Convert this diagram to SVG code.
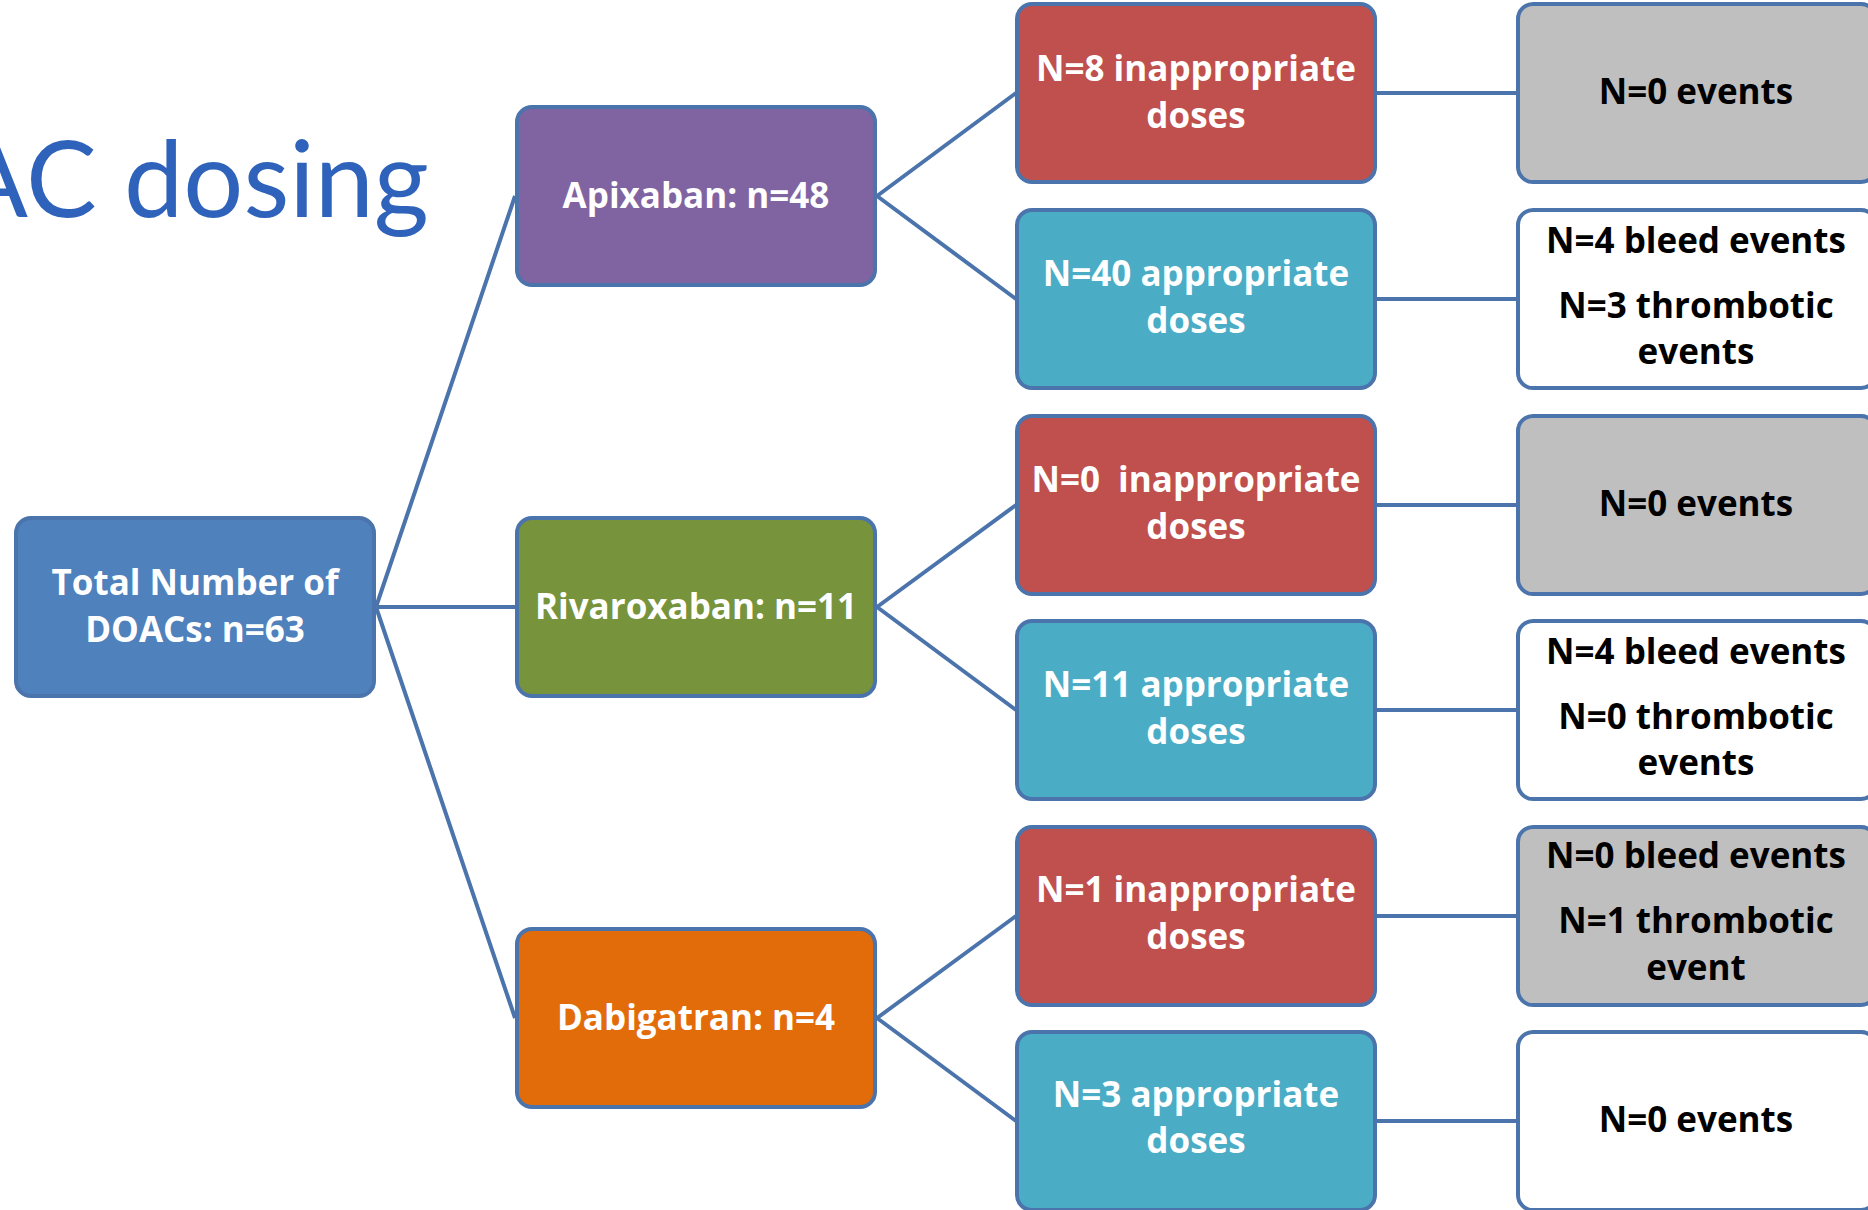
<svg xmlns="http://www.w3.org/2000/svg" width="1868" height="1210" viewBox="0 0 1868 1210">
<style>
.box{stroke:#4a74ab;stroke-width:4}
.c{stroke:#4a74ab;stroke-width:4;fill:none}
.t{font-family:"Open Sans",Lato,sans-serif;font-weight:bold;font-size:35px;text-anchor:middle}
.w{fill:#ffffff}
.k{fill:#000000}
</style>
<rect width="1868" height="1210" fill="#ffffff"/>
<text x="429" y="217" font-family="Lato,sans-serif" font-size="106" fill="#2f63bb" text-anchor="end">AC dosing</text>
<g id="connectors">
<path class="c" d="M376 607L515 196M376 607L515 607M376 607L515 1018"/>
<path class="c" d="M877 196L1016 93M877 196L1016 299M877 607L1016 505M877 607L1016 710M877 1018L1016 916M877 1018L1016 1121"/>
<path class="c" d="M1376 93H1516M1376 299H1516M1376 505H1516M1376 710H1516M1376 916H1516M1376 1121H1516"/>
</g>
<g id="root"><rect class="box" x="16" y="518" width="358" height="178" rx="15" fill="#4f81bd"/>
<text class="t w" x="195" y="595">Total Number of</text><text class="t w" x="195" y="642">DOACs: n=63</text></g>
<g id="apixaban"><rect class="box" x="517" y="107" width="358" height="178" rx="15" fill="#8064a2"/>
<text class="t w" x="696" y="208">Apixaban: n=48</text></g>
<g id="rivaroxaban"><rect class="box" x="517" y="518" width="358" height="178" rx="15" fill="#77933c"/>
<text class="t w" x="696" y="619">Rivaroxaban: n=11</text></g>
<g id="dabigatran"><rect class="box" x="517" y="929" width="358" height="178" rx="15" fill="#e36c0a"/>
<text class="t w" x="696" y="1030">Dabigatran: n=4</text></g>

<g id="apix-inappropriate"><rect class="box" x="1017" y="4" width="358" height="178" rx="15" fill="#c0504d"/>
<text class="t w" x="1196" y="81">N=8 inappropriate</text><text class="t w" x="1196" y="128">doses</text></g>
<g id="apix-appropriate"><rect class="box" x="1017" y="210" width="358" height="178" rx="15" fill="#4bacc6"/>
<text class="t w" x="1196" y="286">N=40 appropriate</text><text class="t w" x="1196" y="333">doses</text></g>
<g id="riva-inappropriate"><rect class="box" x="1017" y="416" width="358" height="178" rx="15" fill="#c0504d"/>
<text class="t w" x="1196" y="492" xml:space="preserve">N=0  inappropriate</text><text class="t w" x="1196" y="539">doses</text></g>
<g id="riva-appropriate"><rect class="box" x="1017" y="621" width="358" height="178" rx="15" fill="#4bacc6"/>
<text class="t w" x="1196" y="697">N=11 appropriate</text><text class="t w" x="1196" y="744">doses</text></g>
<g id="dabi-inappropriate"><rect class="box" x="1017" y="827" width="358" height="178" rx="15" fill="#c0504d"/>
<text class="t w" x="1196" y="902">N=1 inappropriate</text><text class="t w" x="1196" y="949">doses</text></g>
<g id="dabi-appropriate"><rect class="box" x="1017" y="1032" width="358" height="178" rx="15" fill="#4bacc6"/>
<text class="t w" x="1196" y="1107">N=3 appropriate</text><text class="t w" x="1196" y="1153">doses</text></g>

<g id="out1"><rect class="box" x="1518" y="4" width="358" height="178" rx="15" fill="#bfbfbf"/>
<text class="t k" x="1696" y="104">N=0 events</text></g>
<g id="out2"><rect class="box" x="1518" y="210" width="358" height="178" rx="15" fill="#ffffff"/>
<text class="t k" x="1696" y="253">N=4 bleed events</text><text class="t k" x="1696" y="318">N=3 thrombotic</text><text class="t k" x="1696" y="364">events</text></g>
<g id="out3"><rect class="box" x="1518" y="416" width="358" height="178" rx="15" fill="#bfbfbf"/>
<text class="t k" x="1696" y="516">N=0 events</text></g>
<g id="out4"><rect class="box" x="1518" y="621" width="358" height="178" rx="15" fill="#ffffff"/>
<text class="t k" x="1696" y="664">N=4 bleed events</text><text class="t k" x="1696" y="729">N=0 thrombotic</text><text class="t k" x="1696" y="775">events</text></g>
<g id="out5"><rect class="box" x="1518" y="827" width="358" height="178" rx="15" fill="#bfbfbf"/>
<text class="t k" x="1696" y="868">N=0 bleed events</text><text class="t k" x="1696" y="933">N=1 thrombotic</text><text class="t k" x="1696" y="980">event</text></g>
<g id="out6"><rect class="box" x="1518" y="1032" width="358" height="178" rx="15" fill="#ffffff"/>
<text class="t k" x="1696" y="1132">N=0 events</text></g>
</svg>
